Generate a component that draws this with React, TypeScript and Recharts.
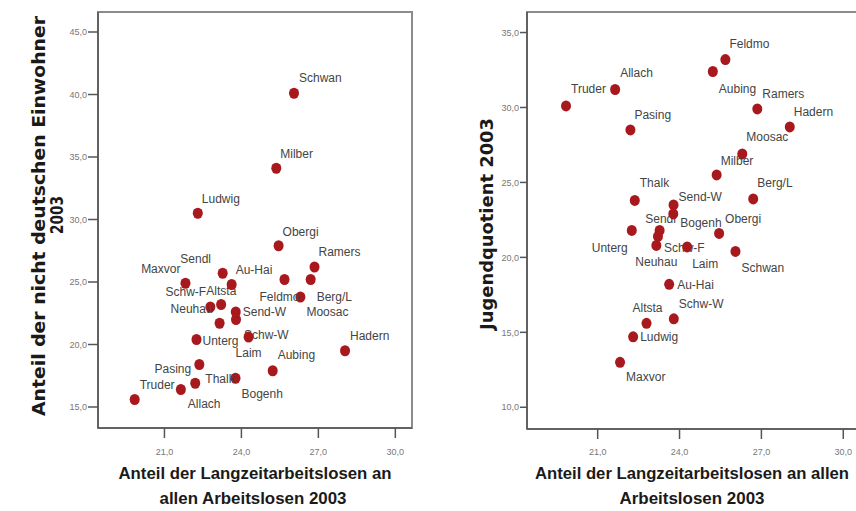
import { ScatterChart, Scatter, XAxis, YAxis, ReferenceArea } from "recharts";

// Münchner Stadtbezirke 2003
const names = [
  "Altsta", "Ludwig", "Maxvor", "Schw-W", "Au-Hai", "Sendl", "Send-W", "Schwan", "Neuhau",
  "Moosac", "Milber", "Schw-F", "Bogenh", "Berg/L", "Truder", "Ramers", "Obergi", "Unterg",
  "Thalk", "Hadern", "Pasing", "Aubing", "Allach", "Feldmo", "Laim",
];
// Anteil der Langzeitarbeitslosen an allen Arbeitslosen 2003
const langzeit = [
  22.79, 22.3, 21.82, 23.79, 23.62, 23.27, 23.78, 26.05, 23.15,
  26.3, 25.36, 23.21, 23.77, 26.7, 19.84, 26.85, 25.45, 22.25,
  22.36, 28.04, 22.2, 25.22, 21.64, 25.68, 24.28,
];
// Anteil der nicht deutschen Einwohner 2003
const auslaender = [
  23.0, 30.5, 24.9, 22.0, 24.8, 25.7, 22.6, 40.1, 21.7,
  23.8, 34.1, 23.2, 17.3, 25.2, 15.6, 26.2, 27.9, 20.4,
  18.4, 19.5, 16.9, 17.9, 16.4, 25.2, 20.6,
];
// Jugendquotient 2003
const jugend = [
  15.6, 14.7, 13.0, 15.9, 18.2, 21.8, 23.5, 20.4, 20.8,
  26.9, 25.5, 21.4, 22.9, 23.9, 30.1, 29.9, 21.6, 21.8,
  23.8, 28.7, 28.5, 32.4, 31.2, 33.2, 20.7,
];

const xTicks = [21, 24, 27, 30];
const leftTicks = [15, 20, 25, 30, 35, 40, 45];
const rightTicks = [10, 15, 20, 25, 30, 35];

const leftData = names.map((name, i) => ({ name, x: langzeit[i], y: auslaender[i] }));
const rightData = names.map((name, i) => ({ name, x: langzeit[i], y: jugend[i] }));

const X_DOMAIN: [number, number] = [18.41, 30.65];
const LEFT_DOMAIN: [number, number] = [13.32, 46.6];
const RIGHT_DOMAIN: [number, number] = [8.55, 36.37];

type Pos = ["start" | "middle" | "end", number, number];

// where each label sits relative to its point
const leftLabels: Record<string, Pos> = {
  Schwan: ["start", 5, -15],
  Milber: ["start", 4, -14],
  Ludwig: ["start", 4, -14],
  Obergi: ["start", 4, -14],
  Ramers: ["start", 4, -15],
  "Berg/L": ["start", 6, 17],
  Feldmo: ["middle", -5, 17],
  Moosac: ["start", 6, 15],
  Sendl: ["middle", -27, -14],
  "Au-Hai": ["start", 4, -15],
  Maxvor: ["end", -5, -14],
  Altsta: ["start", -4, -16],
  "Schw-F": ["end", -15, -13],
  Neuhau: ["end", -7, -14],
  "Send-W": ["start", 7, 0],
  "Schw-W": ["start", 8, 15],
  Unterg: ["start", 6, 1],
  Laim: ["middle", 0, 16],
  Hadern: ["start", 5, -15],
  Aubing: ["start", 5, -16],
  Pasing: ["end", -4, -14],
  Thalk: ["start", 6, 14],
  Truder: ["start", 5, -15],
  Allach: ["start", 7, 14],
  Bogenh: ["start", 6, 16],
};

const rightLabels: Record<string, Pos> = {
  Feldmo: ["start", 4, -16],
  Aubing: ["start", 6, 17],
  Allach: ["start", 5, -16],
  Truder: ["start", 5, -17],
  Ramers: ["start", 5, -15],
  Hadern: ["start", 4, -15],
  Pasing: ["start", 4, -15],
  Moosac: ["start", 4, -17],
  Milber: ["start", 4, -14],
  "Berg/L": ["start", 4, -16],
  Thalk: ["start", 5, -17],
  "Send-W": ["start", 5, -8],
  Sendl: ["middle", 1, -11],
  Bogenh: ["start", 7, 9],
  Obergi: ["start", 6, -14],
  Unterg: ["end", -4, 18],
  "Schw-F": ["start", 6, 12],
  Neuhau: ["middle", 0, 17],
  Laim: ["start", 5, 17],
  Schwan: ["start", 6, 17],
  "Au-Hai": ["start", 8, 1],
  "Schw-W": ["start", 5, -15],
  Altsta: ["middle", 1, -15],
  Ludwig: ["start", 7, 0],
  Maxvor: ["start", 6, 15],
};

const SANS = "'Liberation Sans', Arial, sans-serif";
const WIDE = "'DejaVu Sans', Verdana, sans-serif";
const fmt = (v: number) => v.toFixed(1).replace(".", ",");

const makeDot = (labels: Record<string, Pos>) => (props: any) => {
  const { cx, cy, payload } = props;
  const [anchor, dx, dy] = labels[payload.name] || ["start", 5, -14];
  return (
    <g>
      <ellipse cx={cx} cy={cy} rx={5} ry={5.5} fill="#a8191e" />
      <text
        x={cx + dx}
        y={cy + dy}
        textAnchor={anchor}
        dominantBaseline="central"
        fontSize={12}
        fontFamily={SANS}
        fill="#444"
      >
        {payload.name}
      </text>
    </g>
  );
};

const tickStyle = { fontSize: 9, fill: "#777", fontFamily: SANS };

const Panel = ({ data, yDomain, yTicks, labels, margin, tickSize, tickMargin }: any) => (
  <ScatterChart width={440} height={511} margin={margin}>
    <XAxis
      type="number"
      dataKey="x"
      domain={X_DOMAIN}
      ticks={xTicks}
      allowDataOverflow
      height={40}
      tickSize={10}
      tickMargin={tickMargin}
      tickFormatter={fmt}
      tick={tickStyle}
      axisLine={{ stroke: "#555", strokeWidth: 1.5 }}
      tickLine={{ stroke: "#555", strokeWidth: 1.5 }}
    />
    <YAxis
      type="number"
      dataKey="y"
      domain={yDomain}
      ticks={yTicks}
      allowDataOverflow
      width={40}
      tickSize={tickSize}
      tickMargin={1}
      tickFormatter={fmt}
      tick={tickStyle}
      axisLine={{ stroke: "#555", strokeWidth: 1.5 }}
      tickLine={{ stroke: "#555", strokeWidth: 1.5 }}
    />
    <ReferenceArea
      x1={X_DOMAIN[0]}
      x2={X_DOMAIN[1]}
      y1={yDomain[0]}
      y2={yDomain[1]}
      fill="none"
      stroke="#8c8c8c"
      strokeWidth={2}
      ifOverflow="visible"
    />
    <Scatter data={data} shape={makeDot(labels)} isAnimationActive={false} />
  </ScatterChart>
);

const titleBold = { fontFamily: SANS, fontWeight: 700, fontSize: 16, fill: "#1a1a1a" };
const yTitle = { fontFamily: WIDE, fontWeight: 700, fontSize: 17, fill: "#1a1a1a" };

export default function App() {
  return (
    <div
      style={{
        position: "absolute",
        left: 0,
        top: 0,
        width: 856,
        height: 511,
        overflow: "hidden",
        background: "#fff",
      }}
    >
      <div style={{ position: "absolute", left: 0, top: 0 }}>
        <Panel
          data={leftData}
          yDomain={LEFT_DOMAIN}
          yTicks={leftTicks}
          labels={leftLabels}
          margin={{ top: 12, left: 58, right: 28, bottom: 43 }}
          tickSize={10}
          tickMargin={11}
        />
      </div>
      <div style={{ position: "absolute", left: 440, top: 0 }}>
        <Panel
          data={rightData}
          yDomain={RIGHT_DOMAIN}
          yTicks={rightTicks}
          labels={rightLabels}
          margin={{ top: 12, left: 47, right: 19, bottom: 42 }}
          tickSize={7}
          tickMargin={10}
        />
      </div>
      <svg
        width={856}
        height={511}
        style={{ position: "absolute", left: 0, top: 0, pointerEvents: "none" }}
      >
        <text x={255} y={473} textAnchor="middle" dominantBaseline="central" textLength={273} lengthAdjust="spacingAndGlyphs" style={titleBold}>
          Anteil der Langzeitarbeitslosen an
        </text>
        <text x={253} y={498} textAnchor="middle" dominantBaseline="central" textLength={187} lengthAdjust="spacingAndGlyphs" style={titleBold}>
          allen Arbeitslosen 2003
        </text>
        <text x={692} y={473} textAnchor="middle" dominantBaseline="central" textLength={314} lengthAdjust="spacingAndGlyphs" style={titleBold}>
          Anteil der Langzeitarbeitslosen an allen
        </text>
        <text x={692} y={498} textAnchor="middle" dominantBaseline="central" textLength={145} lengthAdjust="spacingAndGlyphs" style={titleBold}>
          Arbeitslosen 2003
        </text>
        <text transform="translate(38.5,216) rotate(-90)" textAnchor="middle" dominantBaseline="central" textLength={400} lengthAdjust="spacingAndGlyphs" style={yTitle}>
          Anteil der nicht deutschen Einwohner
        </text>
        <text transform="translate(57,215) rotate(-90)" textAnchor="middle" dominantBaseline="central" textLength={38} lengthAdjust="spacingAndGlyphs" style={yTitle}>
          2003
        </text>
        <text transform="translate(487,224) rotate(-90)" textAnchor="middle" dominantBaseline="central" textLength={212} lengthAdjust="spacingAndGlyphs" style={yTitle}>
          Jugendquotient 2003
        </text>
      </svg>
    </div>
  );
}
